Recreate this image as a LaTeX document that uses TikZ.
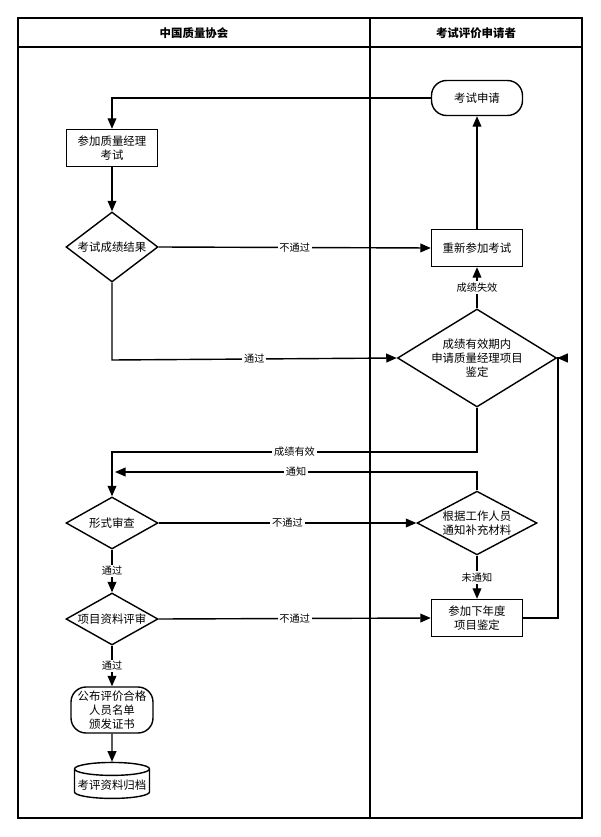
\documentclass[tikz,border=0pt]{standalone}
\usepackage{fontspec}
\setmainfont{Noto Sans CJK SC}
\usetikzlibrary{shapes.geometric,arrows.meta}
\tikzset{
    box/.style={draw, thick, fill=white, minimum width=1.82cm, minimum height=0.74cm, align=center, inner sep=1pt},
    term/.style={draw, thick, fill=white, rounded corners=0.3cm, minimum width=1.82cm, minimum height=0.7cm, align=center, inner sep=1pt},
    test/.style={draw, thick, diamond, aspect=1.75, fill=white, align=center, inner sep=0pt},
    store/.style={draw, thick, cylinder, shape border rotate=90, aspect=0.18, fill=white, minimum width=1.5cm, minimum height=0.72cm, inner sep=1pt},
    flow/.style={thick, -{Triangle[length=6pt,width=5pt]}},
    tag/.style={fill=white, inner sep=1pt, font=\fontsize{5.8}{7}\selectfont}
}
\begin{document}
\begin{tikzpicture}[x=0.02cm, y=-0.02cm, font=\fontsize{6.5}{8}\selectfont]
    \useasboundingbox (0,0) rectangle (600,837);
    % lanes
    \draw[thick] (18,18) rectangle (582,818);
    \draw[thick] (18,47) -- (582,47);
    \draw[thick] (370,18) -- (370,818);
    \node[font=\fontsize{6.5}{8}\selectfont\bfseries] (laneA) at (194,33) {中国质量协会};
    \node[font=\fontsize{6.5}{8}\selectfont\bfseries] (laneB) at (476,33) {考试评价申请者};

    % nodes
    \node[term] (apply) at (477,98) {考试申请};
    \node[box] (exam) at (112,148) {参加质量经理\\考试};
    \node[test, minimum width=1.84cm, minimum height=1.4cm] (result) at (112,247) {考试成绩结果};
    \node[box] (retake) at (477,248) {重新参加考试};
    \node[test, minimum width=2.36cm, minimum height=1.96cm] (valid) at (477,358) {成绩有效期内\\申请质量经理项目\\鉴定};
    \node[test, minimum width=1.84cm, minimum height=1.04cm] (form) at (112,523) {形式审查};
    \node[test, minimum width=2.4cm, minimum height=1.02cm] (supply) at (477,523) {根据工作人员\\通知补充材料};
    \node[test, minimum width=1.84cm, minimum height=1.04cm] (review) at (112,619) {项目资料评审};
    \node[box] (next) at (477,618) {参加下年度\\项目鉴定};
    \node[term, minimum height=0.92cm, minimum width=1.64cm] (publish) at (112,710) {公布评价合格\\人员名单\\颁发证书};
    \node[store] (archive) at (112,785) {考评资料归档};

    \coordinate (c1) at (112,98);
    \coordinate (c2) at (112,452);
    \coordinate (c3) at (477,452);
    \coordinate (c4) at (477,472);
    \coordinate (c5) at (115,472);
    \coordinate (c6) at (558,618);
    \coordinate (c7) at (558,358);
    \coordinate (c8) at (112,360);

    % connectors
    \draw[flow] (apply.west) -- (c1) -- (exam.north);
    \draw[flow] (exam) -- (result);
    \draw[flow] (result.east) -- node[tag] {不通过} (retake.west);
    \draw[flow] (retake) -- (apply);
    \draw[flow] (valid) -- node[tag] {成绩失效} (retake);
    \draw[flow] (result.south) -- (c8) -- node[tag] {通过} (valid.west);
    \draw[flow] (valid.south) -- (c3) -- node[tag] {成绩有效} (c2) -- (form.north);
    \draw[flow] (supply.north) -- (c4) -- node[tag] {通知} (c5);
    \draw[flow] (form.east) -- node[tag] {不通过} (supply.west);
    \draw[flow] (supply) -- node[tag] {未通知} (next);
    \draw[flow] (form) -- node[tag] {通过} (review);
    \draw[flow] (review.east) -- node[tag] {不通过} (next.west);
    \draw[flow] (next.east) -- (c6) -- (c7) -- (valid.east);
    \draw[flow] (review) -- node[tag] {通过} (publish);
    \draw[flow] (publish) -- (archive);
\end{tikzpicture}
\end{document}
